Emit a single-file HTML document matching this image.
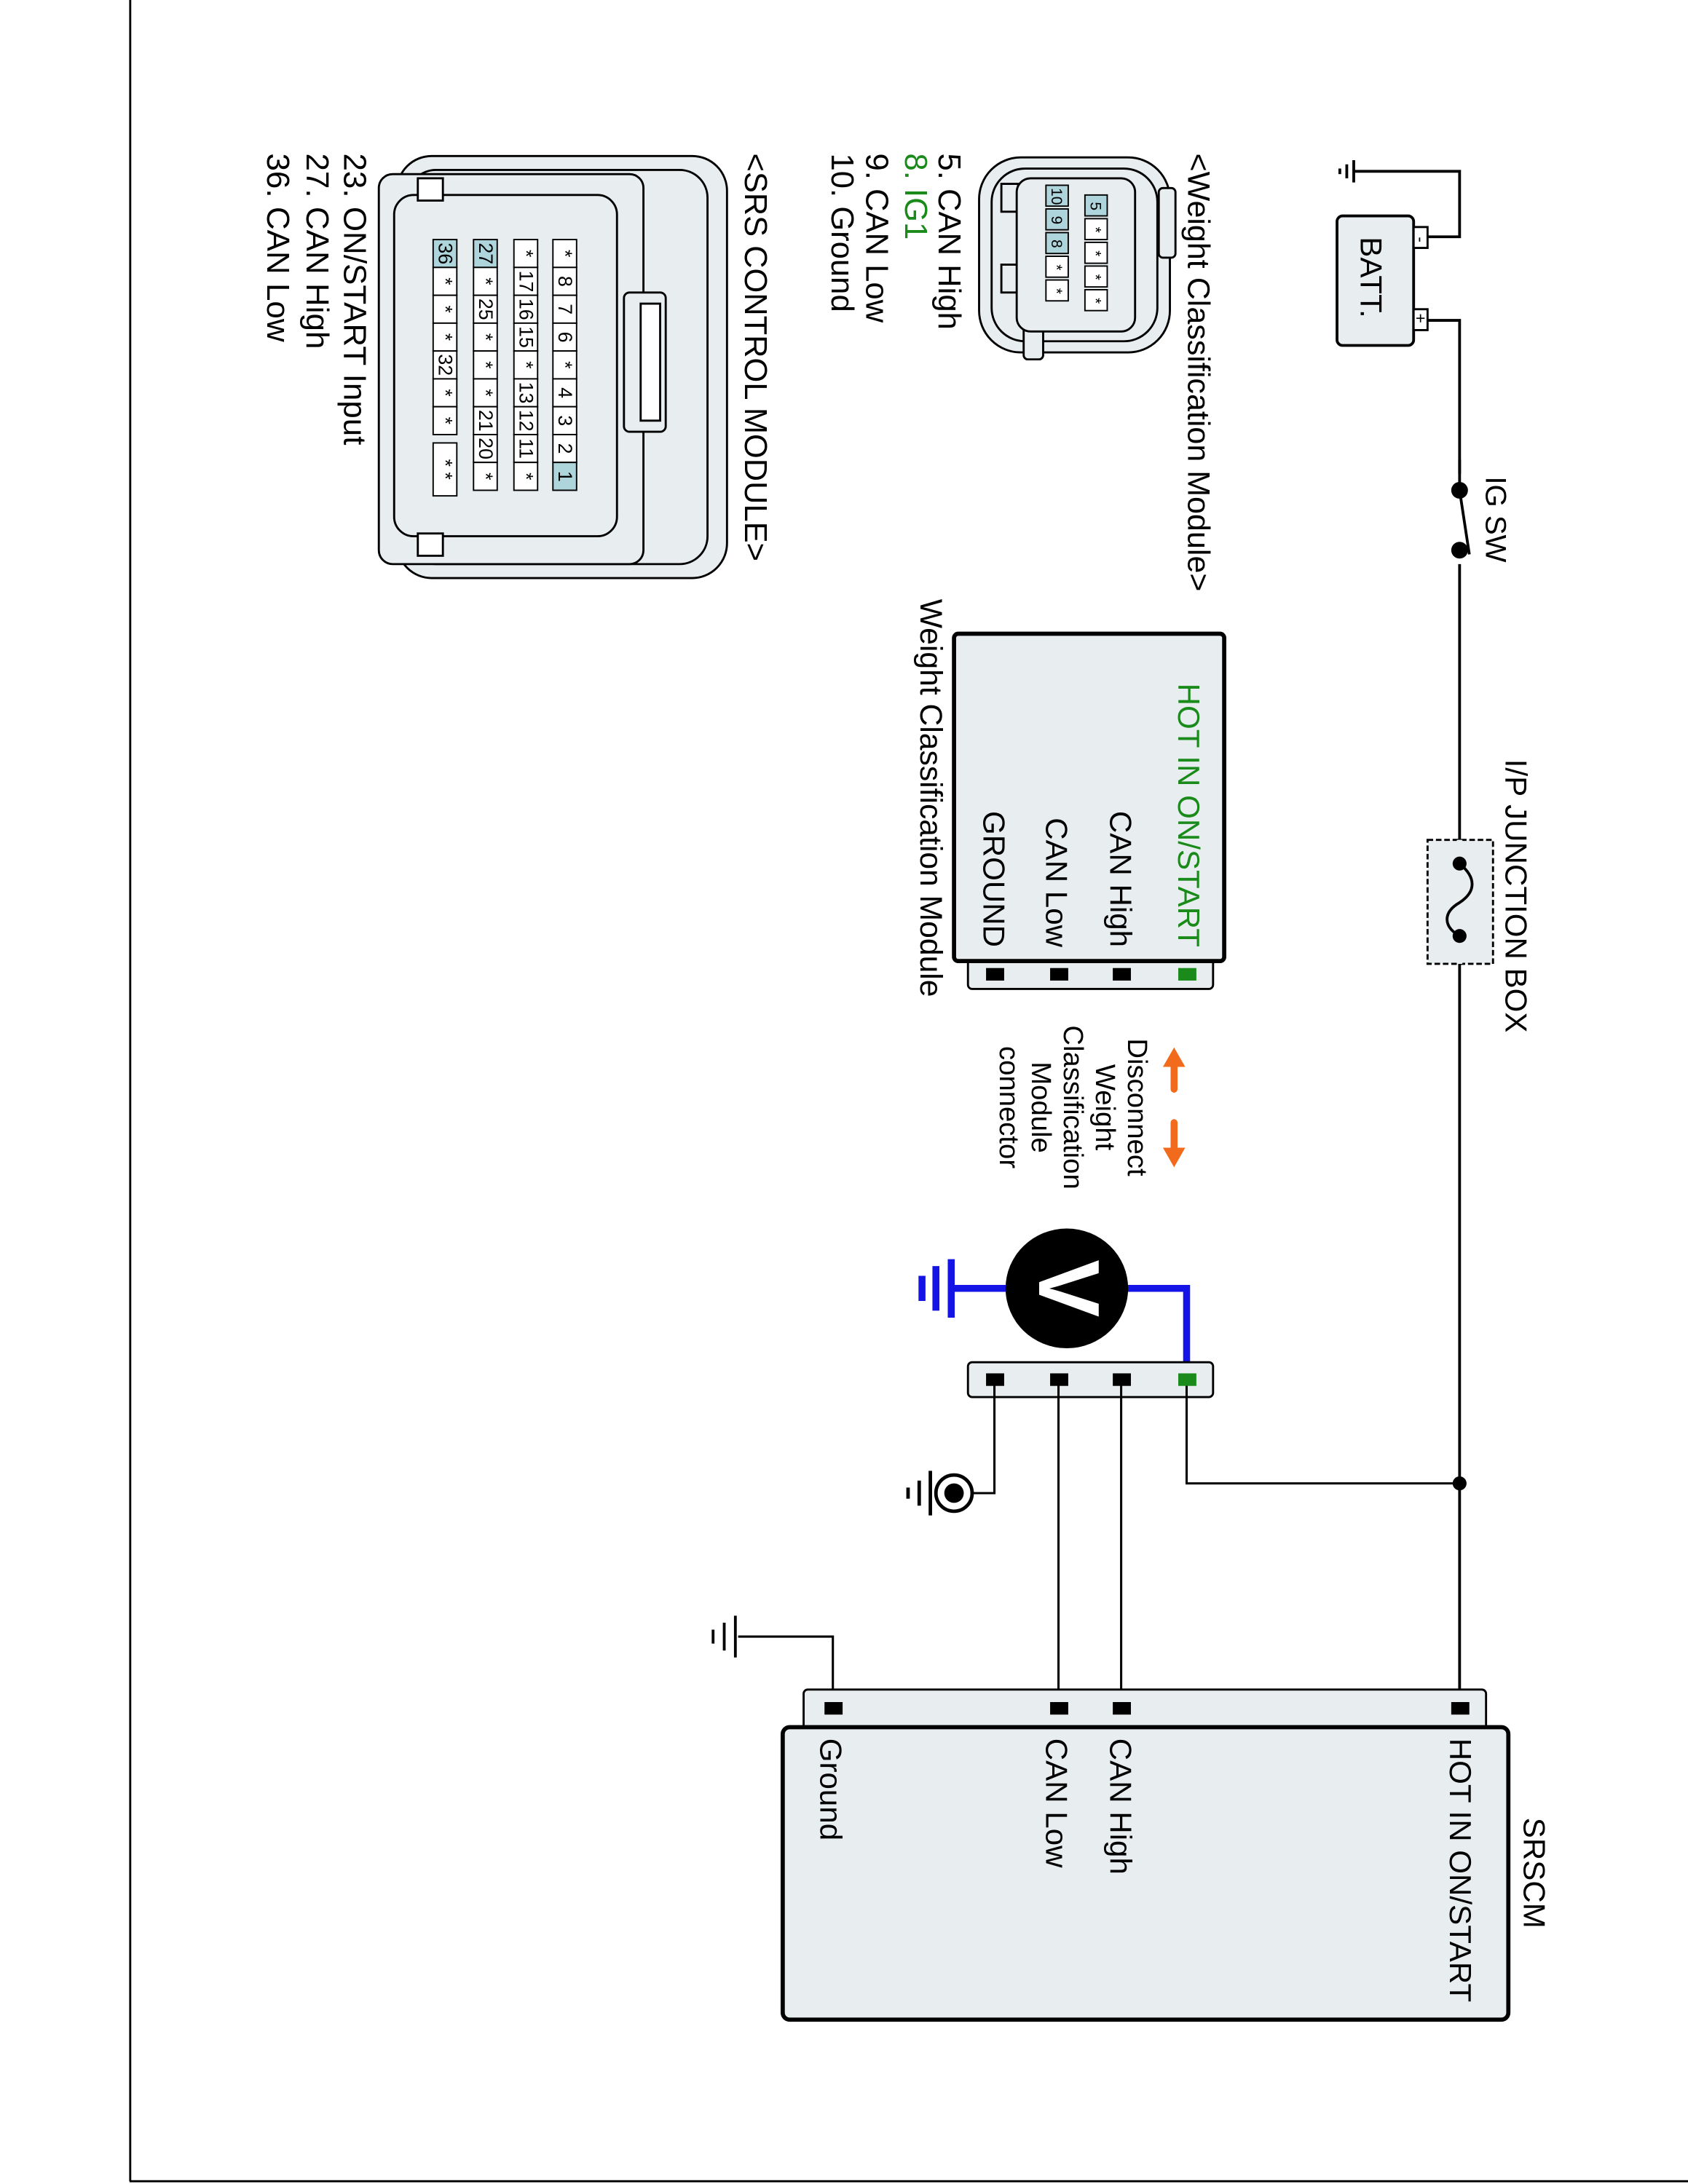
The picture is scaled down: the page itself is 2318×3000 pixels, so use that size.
<!DOCTYPE html>
<html><head><meta charset="utf-8"><style>
html,body{margin:0;padding:0;background:#fff}
svg{display:block}
text{font-family:"Liberation Sans",Arial,sans-serif}
</style></head><body>
<svg width="2318" height="3000" viewBox="0 0 1212 1568" preserveAspectRatio="none" xmlns="http://www.w3.org/2000/svg">
<rect x="0" y="0" width="1212" height="1568" fill="#fff"/>
<line x1="93.5" y1="0" x2="93.5" y2="1566" stroke="#000" stroke-width="1.5"/>
<line x1="93" y1="1566" x2="1212" y2="1566" stroke="#000" stroke-width="1.5"/>

<!-- battery -->
<g stroke="#000" stroke-width="2" fill="none">
<polyline points="1025,170 1048,170 1048,123 972,123"/>
<line x1="972" y1="115" x2="972" y2="131"/>
<line x1="967" y1="118" x2="967" y2="128"/>
<line x1="962" y1="121" x2="962" y2="125"/>
<polyline points="1025,230 1048,230 1048,1240"/>
</g>
<rect x="960" y="155" width="55" height="93" rx="4" fill="#e8eef0" stroke="#000" stroke-width="2"/>
<rect x="1015" y="163" width="10" height="15" fill="#fff" stroke="#000" stroke-width="1.5"/>
<rect x="1015" y="222" width="10" height="15" fill="#fff" stroke="#000" stroke-width="1.5"/>
<text transform="translate(1016,170) rotate(90)" font-size="12">-</text>
<text transform="translate(1016,225) rotate(90)" font-size="12">+</text>
<text transform="translate(977,170) rotate(90)" font-size="22">BATT.</text>

<!-- IG SW -->
<rect x="1040" y="340" width="16" height="65" fill="#fff"/>
<line x1="1048" y1="330" x2="1048" y2="352" stroke="#000" stroke-width="2"/>
<line x1="1048" y1="352" x2="1055" y2="398" stroke="#000" stroke-width="2"/>
<circle cx="1048" cy="352" r="6" fill="#000"/>
<circle cx="1048" cy="395" r="6" fill="#000"/>
<text transform="translate(1067,342) rotate(90)" font-size="21">IG SW</text>

<!-- junction box -->
<rect x="1025" y="603" width="47" height="89" fill="#e8eef0" stroke="#000" stroke-width="1.5" stroke-dasharray="4,2"/>
<line x1="1048" y1="603" x2="1048" y2="692" stroke="#e8eef0" stroke-width="4"/>
<path d="M1048,620 C1060,630 1060,640 1048,648 C1036,655 1036,665 1048,672" fill="none" stroke="#000" stroke-width="2"/>
<circle cx="1048" cy="620" r="5" fill="#000"/>
<circle cx="1048" cy="672" r="5" fill="#000"/>
<text transform="translate(1081,545) rotate(90)" font-size="22">I/P JUNCTION BOX</text>

<!-- WCM box -->
<rect x="695" y="680" width="176" height="30" rx="3" fill="#e8eef0" stroke="#000" stroke-width="1.5"/>
<rect x="685" y="455" width="194" height="235" rx="3" fill="#e8eef0" stroke="#000" stroke-width="3"/>
<rect x="846" y="695" width="13" height="9" fill="#1a8a1a"/>
<rect x="799" y="695" width="13" height="9" fill="#000"/>
<rect x="754" y="695" width="13" height="9" fill="#000"/>
<rect x="708" y="695" width="13" height="9" fill="#000"/>
<text transform="translate(846,680) rotate(90)" font-size="22" fill="#1a8a1a" text-anchor="end">HOT IN ON/START</text>
<text transform="translate(797,680) rotate(90)" font-size="22" text-anchor="end">CAN High</text>
<text transform="translate(751,680) rotate(90)" font-size="22" text-anchor="end">CAN Low</text>
<text transform="translate(706,680) rotate(90)" font-size="22" text-anchor="end">GROUND</text>
<text transform="translate(661,430) rotate(90)" font-size="22.3">Weight Classification Module</text>

<!-- orange arrows -->
<g fill="#f26b1d" stroke="#f26b1d">
<line x1="843" y1="762" x2="843" y2="782" stroke-width="5" stroke-linecap="round"/>
<polygon points="843,752 835,766 851,766" stroke="none"/>
<line x1="843" y1="806" x2="843" y2="828" stroke-width="5" stroke-linecap="round"/>
<polygon points="843,838 835,824 851,824" stroke="none"/>
</g>
<g font-size="20" text-anchor="middle">
<text transform="translate(810,795) rotate(90)">Disconnect</text>
<text transform="translate(787,795) rotate(90)">Weight</text>
<text transform="translate(764,795) rotate(90)">Classification</text>
<text transform="translate(741,795) rotate(90)">Module</text>
<text transform="translate(718,795) rotate(90)">connector</text>
</g>

<!-- voltmeter -->
<g stroke="#1414e6" stroke-width="5" fill="none">
<polyline points="805,925 852,925 852,990"/>
<line x1="725" y1="925" x2="683" y2="925"/>
<line x1="683" y1="904" x2="683" y2="946"/>
<line x1="672" y1="909" x2="672" y2="941"/>
<line x1="662" y1="916" x2="662" y2="934"/>
</g>
<ellipse cx="766" cy="925" rx="44" ry="43" fill="#000"/>
<text transform="translate(746,925) rotate(90)" font-size="62" font-weight="bold" fill="#fff" text-anchor="middle">V</text>

<!-- lower connector -->
<rect x="695" y="978" width="176" height="25" rx="3" fill="#e8eef0" stroke="#000" stroke-width="1.5"/>
<g stroke="#000" stroke-width="1.6" fill="none">
<polyline points="852,990 852,1065 1048,1065"/>
<line x1="805" y1="990" x2="805" y2="1225"/>
<line x1="760" y1="990" x2="760" y2="1225"/>
<polyline points="714,990 714,1072 698,1072"/>
<polyline points="598,1225 598,1175 530,1175"/>
<line x1="528" y1="1160" x2="528" y2="1190" stroke-width="2"/>
<line x1="520" y1="1165" x2="520" y2="1185" stroke-width="2"/>
<line x1="512" y1="1170" x2="512" y2="1180" stroke-width="2"/>
</g>
<circle cx="1048" cy="1065" r="5" fill="#000"/>
<rect x="846" y="986" width="13" height="9" fill="#1a8a1a"/>
<rect x="799" y="986" width="13" height="9" fill="#000"/>
<rect x="754" y="986" width="13" height="9" fill="#000"/>
<rect x="708" y="986" width="13" height="9" fill="#000"/>
<!-- chassis ground -->
<circle cx="685" cy="1072" r="13" fill="#fff" stroke="#000" stroke-width="2.5"/>
<circle cx="685" cy="1072" r="7" fill="#000"/>
<line x1="668" y1="1056" x2="668" y2="1088" stroke="#000" stroke-width="2.5"/>
<line x1="660" y1="1063" x2="660" y2="1081" stroke="#000" stroke-width="2.5"/>
<line x1="652" y1="1068" x2="652" y2="1076" stroke="#000" stroke-width="2.5"/>

<!-- SRSCM -->
<rect x="577" y="1213" width="490" height="30" rx="3" fill="#e8eef0" stroke="#000" stroke-width="1.5"/>
<rect x="562" y="1240" width="521" height="210" rx="5" fill="#e8eef0" stroke="#000" stroke-width="3"/>
<rect x="1042" y="1222" width="13" height="9" fill="#000"/>
<rect x="799" y="1222" width="13" height="9" fill="#000"/>
<rect x="754" y="1222" width="13" height="9" fill="#000"/>
<rect x="592" y="1222" width="13" height="9" fill="#000"/>
<text transform="translate(1041,1248) rotate(90)" font-size="22">HOT IN ON/START</text>
<text transform="translate(797,1248) rotate(90)" font-size="22">CAN High</text>
<text transform="translate(751,1248) rotate(90)" font-size="22">CAN Low</text>
<text transform="translate(589,1248) rotate(90)" font-size="22">Ground</text>
<text transform="translate(1094,1305) rotate(90)" font-size="22">SRSCM</text>

<!-- WCM connector pic -->
<g stroke="#000" stroke-width="1.5" fill="#e8eef0">
<rect x="703" y="113" width="137" height="140" rx="30"/>
<rect x="712" y="121" width="119" height="124" rx="24"/>
<rect x="832" y="135" width="12" height="50" rx="3"/>
<rect x="719" y="132" width="12" height="20"/>
<rect x="719" y="190" width="12" height="20"/>
<rect x="735" y="220" width="14" height="38" rx="3"/>
<rect x="730" y="128" width="85" height="110" rx="10"/>
</g>
<g stroke="#000" stroke-width="1">
<rect x="779" y="140" width="16" height="15" fill="#aed4dc"/>
<rect x="779" y="157" width="16" height="15" fill="#fff"/>
<rect x="779" y="174" width="16" height="15" fill="#fff"/>
<rect x="779" y="191" width="16" height="15" fill="#fff"/>
<rect x="779" y="208" width="16" height="15" fill="#fff"/>
<rect x="751" y="133" width="16" height="15" fill="#aed4dc"/>
<rect x="751" y="150" width="16" height="15" fill="#aed4dc"/>
<rect x="751" y="167" width="16" height="15" fill="#aed4dc"/>
<rect x="751" y="184" width="16" height="15" fill="#fff"/>
<rect x="751" y="201" width="16" height="15" fill="#fff"/>
</g>
<g font-size="11" text-anchor="middle">
<text transform="translate(783,148) rotate(90)">5</text>
<text transform="translate(783,165) rotate(90)">*</text>
<text transform="translate(783,182) rotate(90)">*</text>
<text transform="translate(783,199) rotate(90)">*</text>
<text transform="translate(783,216) rotate(90)">*</text>
<text transform="translate(755,141) rotate(90)">10</text>
<text transform="translate(755,158) rotate(90)">9</text>
<text transform="translate(755,175) rotate(90)">8</text>
<text transform="translate(755,192) rotate(90)">*</text>
<text transform="translate(755,209) rotate(90)">*</text>
</g>
<text transform="translate(853,110) rotate(90)" font-size="22.5">&lt;Weight Classification Module&gt;</text>
<text transform="translate(674,110) rotate(90)" font-size="22.8">5. CAN High</text>
<text transform="translate(650,110) rotate(90)" font-size="22.8" fill="#1a8a1a">8. IG1</text>
<text transform="translate(622,110) rotate(90)" font-size="22.8">9. CAN Low</text>
<text transform="translate(597,110) rotate(90)" font-size="22.8">10. Ground</text>

<!-- SRS connector pic -->
<g stroke="#000" stroke-width="1.5" fill="#e8eef0">
<rect x="285" y="112" width="237" height="303" rx="25"/>
<rect x="293" y="122" width="215" height="283" rx="20"/>
<rect x="272" y="125" width="190" height="280" rx="10"/>
<rect x="283" y="140" width="160" height="245" rx="14"/>
<rect x="448" y="210" width="30" height="100" rx="4"/>
<rect x="460" y="218" width="14" height="84" fill="#fff"/>
<rect x="300" y="128" width="18" height="16" fill="#fff"/>
<rect x="300" y="383" width="18" height="16" fill="#fff"/>
</g>
<g stroke="#000" stroke-width="1">
<g transform="translate(397,0)">
<rect x="0" y="172" width="17" height="20" fill="#fff"/><rect x="0" y="192" width="17" height="20" fill="#fff"/><rect x="0" y="212" width="17" height="20" fill="#fff"/><rect x="0" y="232" width="17" height="20" fill="#fff"/><rect x="0" y="252" width="17" height="20" fill="#fff"/><rect x="0" y="272" width="17" height="20" fill="#fff"/><rect x="0" y="292" width="17" height="20" fill="#fff"/><rect x="0" y="312" width="17" height="20" fill="#fff"/><rect x="0" y="332" width="17" height="20" fill="#aed4dc"/>
</g>
<g transform="translate(369,0)">
<rect x="0" y="172" width="17" height="20" fill="#fff"/><rect x="0" y="192" width="17" height="20" fill="#fff"/><rect x="0" y="212" width="17" height="20" fill="#fff"/><rect x="0" y="232" width="17" height="20" fill="#fff"/><rect x="0" y="252" width="17" height="20" fill="#fff"/><rect x="0" y="272" width="17" height="20" fill="#fff"/><rect x="0" y="292" width="17" height="20" fill="#fff"/><rect x="0" y="312" width="17" height="20" fill="#fff"/><rect x="0" y="332" width="17" height="20" fill="#fff"/>
</g>
<g transform="translate(340,0)">
<rect x="0" y="172" width="17" height="20" fill="#aed4dc"/><rect x="0" y="192" width="17" height="20" fill="#fff"/><rect x="0" y="212" width="17" height="20" fill="#fff"/><rect x="0" y="232" width="17" height="20" fill="#fff"/><rect x="0" y="252" width="17" height="20" fill="#fff"/><rect x="0" y="272" width="17" height="20" fill="#fff"/><rect x="0" y="292" width="17" height="20" fill="#fff"/><rect x="0" y="312" width="17" height="20" fill="#fff"/><rect x="0" y="332" width="17" height="20" fill="#fff"/>
</g>
<g transform="translate(311,0)">
<rect x="0" y="172" width="17" height="20" fill="#aed4dc"/><rect x="0" y="192" width="17" height="20" fill="#fff"/><rect x="0" y="212" width="17" height="20" fill="#fff"/><rect x="0" y="232" width="17" height="20" fill="#fff"/><rect x="0" y="252" width="17" height="20" fill="#fff"/><rect x="0" y="272" width="17" height="20" fill="#fff"/><rect x="0" y="292" width="17" height="20" fill="#fff"/><rect x="0" y="318" width="17" height="38" fill="#fff"/>
</g>
</g>
<g font-size="14" text-anchor="middle">
<text transform="translate(401,182) rotate(90)">*</text><text transform="translate(401,202) rotate(90)">8</text><text transform="translate(401,222) rotate(90)">7</text><text transform="translate(401,242) rotate(90)">6</text><text transform="translate(401,262) rotate(90)">*</text><text transform="translate(401,282) rotate(90)">4</text><text transform="translate(401,302) rotate(90)">3</text><text transform="translate(401,322) rotate(90)">2</text><text transform="translate(401,342) rotate(90)">1</text>
<text transform="translate(373,182) rotate(90)">*</text><text transform="translate(373,202) rotate(90)">17</text><text transform="translate(373,222) rotate(90)">16</text><text transform="translate(373,242) rotate(90)">15</text><text transform="translate(373,262) rotate(90)">*</text><text transform="translate(373,282) rotate(90)">13</text><text transform="translate(373,302) rotate(90)">12</text><text transform="translate(373,322) rotate(90)">11</text><text transform="translate(373,342) rotate(90)">*</text>
<text transform="translate(344,182) rotate(90)">27</text><text transform="translate(344,202) rotate(90)">*</text><text transform="translate(344,222) rotate(90)">25</text><text transform="translate(344,242) rotate(90)">*</text><text transform="translate(344,262) rotate(90)">*</text><text transform="translate(344,282) rotate(90)">*</text><text transform="translate(344,302) rotate(90)">21</text><text transform="translate(344,322) rotate(90)">20</text><text transform="translate(344,342) rotate(90)">*</text>
<text transform="translate(315,182) rotate(90)">36</text><text transform="translate(315,202) rotate(90)">*</text><text transform="translate(315,222) rotate(90)">*</text><text transform="translate(315,242) rotate(90)">*</text><text transform="translate(315,262) rotate(90)">32</text><text transform="translate(315,282) rotate(90)">*</text><text transform="translate(315,302) rotate(90)">*</text><text transform="translate(315,337) rotate(90)">* *</text>
</g>
<text transform="translate(535,110) rotate(90)" font-size="22.7">&lt;SRS CONTROL MODULE&gt;</text>
<text transform="translate(247,110) rotate(90)" font-size="23">23. ON/START Input</text>
<text transform="translate(220,110) rotate(90)" font-size="23">27. CAN High</text>
<text transform="translate(192,110) rotate(90)" font-size="23">36. CAN Low</text>
</svg>
</body></html>
